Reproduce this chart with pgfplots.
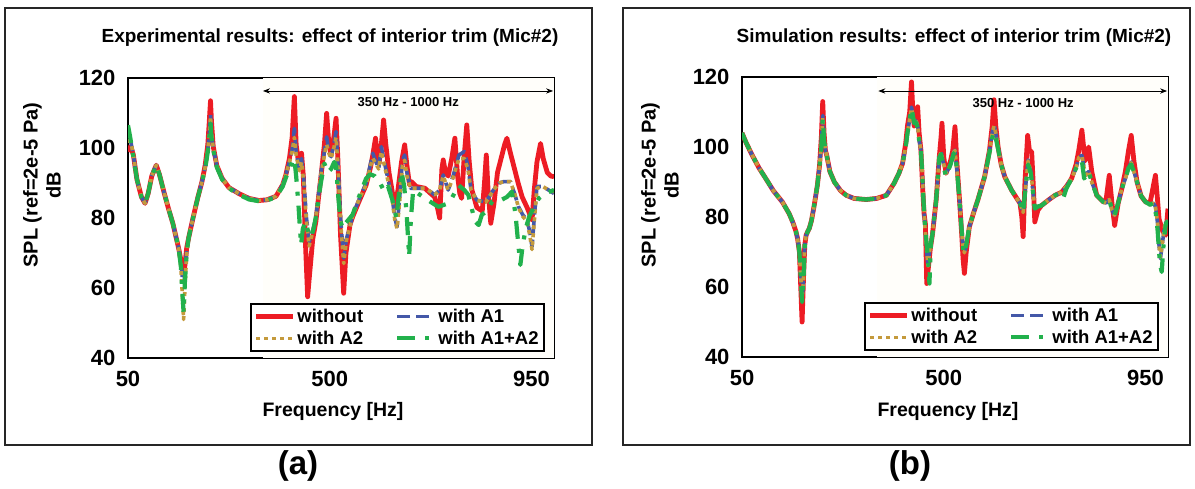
\documentclass[border=0pt]{standalone}
\usepackage{fontspec}
\setmainfont{Liberation Sans}
\usepackage{pgfplots}
\pgfplotsset{compat=1.18}
\usetikzlibrary{arrows.meta}
\definecolor{cRed}{HTML}{ED1C24}
\definecolor{cBlue}{HTML}{4458A8}
\definecolor{cGold}{HTML}{C49A3C}
\definecolor{cGreen}{HTML}{22B14C}
\definecolor{cream}{HTML}{FFFEFA}
\pgfplotsset{
 redline/.style={color=cRed, line width=4.8pt, solid, line join=round},
 blueline/.style={color=cBlue, line width=3.6pt, dash pattern=on 13pt off 6pt, line join=round},
 goldline/.style={color=cGold, line width=3.6pt, dash pattern=on 4pt off 4pt, line join=round},
 greenline/.style={color=cGreen, line width=4.2pt, dash pattern=on 18pt off 10pt on 4pt off 10pt, line join=round},
 panel/.style={
  scale only axis, width=426pt, height=280pt, anchor=south west,
  xmin=50, xmax=1000, ymin=40, ymax=120,
  xtick={50,500,950}, ytick={40,60,80,100,120},
  major tick length=0pt,
  axis line style={line width=2.5pt},
  tick label style={font=\fontsize{22}{26}\selectfont\bfseries},
  /pgf/number format/assume math mode=true,
  xticklabel style={yshift=-10pt}, yticklabel style={xshift=-9pt},
  legend columns=2,
  legend cell align=left,
  legend image code/.code={\draw[##1] (0pt,0pt) -- (37pt,0pt);},
  legend style={at={(rel axis cs:0.978,0.022)}, anchor=south east, draw=black, line width=2pt, fill=white,
    font=\fontsize{18.5}{21}\selectfont\bfseries, inner xsep=3pt, inner ysep=3pt, row sep=3pt,
    /tikz/every even column/.append style={column sep=30pt}},
 },
}
\begin{document}
\begin{tikzpicture}
\useasboundingbox (0pt,0pt) rectangle (1195pt,-488pt);
\draw[line width=2pt, black!85] (5pt,-8pt) rectangle (592pt,-445pt);
\draw[line width=2pt, black!85] (623pt,-8pt) rectangle (1190pt,-445pt);
% ---------------- panel (a)
\begin{axis}[panel, at={(128pt,-358pt)}]
\fill[cream] (axis cs:350,40) rectangle (axis cs:1000,120);
\addplot[redline] coordinates {(50,99)(56,100.5)(62,98)(70,91)(80,86)(88,84.2)(95,87)(103,92)(113,95.1)(120,92.5)(130,87.5)(140,82.8)(150,78.5)(163,71.3)(168,68)(172,64.5)(175,64)(178,68)(181,71.5)(185,74.2)(195,80)(205,85.5)(215,90.4)(222,95)(228,101)(231,107)(234,113.5)(236,108)(240,100.5)(248,95)(260,91.3)(275,88.7)(297,87)(320,85.6)(342,85)(360,85.2)(380,86.2)(395,89.5)(402,92.3)(410,97)(416,103)(421,114.7)(425,101)(432,94.2)(437,98.5)(441,92)(446,72)(450.6,57.5)(455,64)(462,74)(469,79)(475,86)(480.5,92)(488,101)(493,109.9)(498,101)(503,98)(509,103)(514,108.5)(518,97)(524,75)(531,58.5)(536,70)(545,78)(551.5,80.5)(566,85)(581,89.4)(590,94)(596,98)(602,102.8)(607,97)(610,95.6)(615,101)(620,108)(625,101)(632,93)(640,87)(645,82.8)(652,88)(660,96)(667,100.9)(672,95)(678,89.4)(682,90.4)(693,89)(712,88.5)(725,87)(734,86)(740,83)(745,80)(750,94)(753,96.6)(758,93)(764,92)(772,97)(779,102.8)(785,92)(790,87)(794,85.6)(800,98)(805.5,106.6)(811,96)(817,88)(828,83)(840,82)(845,90)(849,98)(853,88)(859,78.5)(866,84)(874,93)(882,97)(890,101)(895,102.8)(902,99)(910,95)(920,90)(929,86)(940,83)(951,79.4)(956,88)(962,96)(970,101.3)(976,97)(985,93)(993,92)(1000,91.8)};
\addlegendentry{without}
\addplot[blueline] coordinates {(50,102)(56,102)(62,98)(70,91)(80,86)(88,84.2)(95,87)(103,92)(113,95.1)(120,92.5)(130,87.5)(140,82.8)(150,78.5)(163,71.3)(168,67)(172,62)(175,61.5)(178,66)(181,71)(185,74.2)(195,80)(205,85.5)(215,90.4)(222,94.5)(228,99.5)(232,105)(234,109.5)(236,104.5)(240,100)(248,95)(260,91.3)(275,88.7)(297,87)(320,85.6)(342,85)(360,85.2)(380,86.2)(395,89.5)(402,92.3)(410,96)(416,99.5)(421,105.6)(425,99)(432,94)(437,97)(442,91)(448,80)(454,73.2)(460,75.5)(469,80)(480.5,93)(488,99)(493,103.2)(498,99)(503,97.5)(509,101)(514,104.7)(518,96)(524,80)(531,68.5)(537,74)(551.5,80.9)(566,85.5)(581,90)(590,95)(596,98.5)(603,96)(609,94)(615,100.4)(620,97)(630,91)(640,85)(645,80)(650,77.5)(656,86)(662,96.5)(667,98)(672,93)(680,88.5)(700,88.5)(712,88.5)(725,87.5)(734,86.6)(745,88)(753,92.3)(764,88)(775,92)(788,98)(800,99)(808,95)(815,88)(828,85.1)(848,84.6)(865,88)(878,90)(888,90.4)(903,90.4)(912,87)(921,83.2)(930,81)(940,79.4)(946,76)(951,71.8)(956,80)(962,89)(975,89)(988,88)(1000,87)};
\addlegendentry{with A1}
\addplot[goldline] coordinates {(50,102)(56,102)(62,98)(70,91)(80,86)(88,84.2)(95,87)(103,92)(113,95.1)(120,92.5)(130,87.5)(140,82.8)(150,78.5)(163,71.3)(168,66)(172,56)(174,51)(177,60)(181,70)(185,74.2)(195,80)(205,85.5)(215,90.4)(222,94.5)(228,99.5)(232,105)(234,109)(236,104.5)(240,100)(248,95)(260,91.3)(275,88.7)(297,87)(320,85.6)(342,85)(360,85.2)(380,86.2)(395,89.5)(402,92.3)(410,96)(416,99)(421,103)(425,98)(432,93.5)(437,96)(442,90)(448,79)(454,72)(460,75)(469,80)(480.5,92.5)(488,98)(493,101)(498,98.5)(503,97)(509,100)(514,103)(518,95)(524,79)(531,67)(537,73.5)(551.5,80.9)(566,85.5)(581,89.5)(590,94.5)(596,97)(603,95.5)(609,94)(615,99)(620,96)(630,90.5)(640,84.5)(645,79.5)(650,77)(656,85)(662,95)(667,96.5)(672,92)(680,88.5)(700,88.5)(712,88.5)(725,87.5)(734,86.6)(745,88)(753,92)(764,88)(775,91.5)(788,97)(800,97)(808,94)(815,88)(828,85)(848,84.5)(865,88)(878,90)(888,90.4)(903,90.4)(912,87)(921,83)(930,80.5)(940,79)(946,75)(951,71)(956,79)(962,88.5)(975,89)(988,88)(1000,87.5)};
\addlegendentry{with A2}
\addplot[greenline] coordinates {(50,106.5)(55,103)(62,97.5)(70,91)(80,86)(88,84.2)(95,87)(103,92)(113,95.1)(120,92.5)(130,87.5)(140,82.8)(150,78.5)(163,71.3)(168,66)(172,57)(174,53)(177,62)(181,70)(185,74.2)(195,80)(205,85.5)(215,90.4)(222,94)(228,99)(232,104)(234,107)(236,103)(240,99.5)(248,94.5)(260,91)(275,88.5)(297,86.7)(320,85.3)(342,84.8)(360,85)(380,86)(395,89)(402,91.5)(410,94)(416,96)(421,97)(425,92)(430,84)(433,78)(436,72.3)(440,77)(446,79)(452,76)(458,74.5)(464,77)(470,81)(480,90)(488,95.6)(495,93)(503,94)(510,96)(514,95)(519,86)(524,79)(529,77)(535,78.5)(545,80)(551,81)(565,86)(581,91.3)(590,92.5)(600,92)(612,90)(622,87.5)(630,89)(640,85)(648.6,79.9)(655,88)(660,93.2)(666,89)(671,82)(677,69)(681,80)(686,88)(697,87)(720,85)(742,83.2)(760,84)(772,85.6)(787,89.4)(800,88)(809,86.6)(818,82)(824,79)(832,78)(839,80.9)(850,82)(862,84.7)(880,85)(895,86)(906,87.5)(914,81.3)(920,73)(925,66.6)(930,72)(937,77)(945,80.5)(955,83)(966,85.6)(980,87)(1000,88)};
\addlegendentry{with A1+A2}
\draw[{Stealth[length=7pt]}-{Stealth[length=7pt]}, line width=0.8pt] (axis cs:351,116.3) -- (axis cs:998,116.3);
\node[font=\fontsize{13}{15}\selectfont\bfseries] at (axis cs:675,113.2) {350 Hz - 1000 Hz};
\end{axis}
% ---------------- panel (b)
\begin{axis}[panel, at={(742pt,-357pt)}]
\fill[cream] (axis cs:350,40) rectangle (axis cs:1000,120);
\addplot[redline] coordinates {(50,104)(60,101)(73,97.6)(88,94)(103,91)(120,87.5)(140,84.3)(155,81)(163,78.6)(170,76)(174,73.8)(178,70)(181,60)(184,50)(187,62)(190,72)(193,74.8)(197,76)(200,76.7)(205,79)(211,83.3)(218,89)(223,94.8)(227,103)(230,113)(233,104)(236,99)(239,97.6)(246,93)(256,90)(270,87.5)(282.5,86.2)(300,85.3)(327,85)(350,85.3)(372,86.2)(389,89.6)(400,92.5)(408,95.3)(415,101)(419,106)(424,110)(428,118.6)(431,110)(434,106)(438,109)(441.7,111.5)(445,104)(449,99.1)(453,88)(456,81)(459,78)(462,61)(466,66)(470,71)(475,75.3)(483,84.9)(490,97.2)(494,103)(496,106.8)(500,97)(505,92.5)(515,96)(520,99)(525,105.8)(529,96)(535,85)(540,75)(543,68)(546,63.9)(550,70)(557,77.2)(566,81)(576,84.9)(591,91.5)(602,99.1)(608,106)(612,113.5)(616,106)(621,100.1)(628,95)(636,91.5)(651,87.7)(662,85.5)(670,83.9)(674,80)(677,74.4)(681,90)(687,103.3)(691,99)(696,98.6)(700,88)(703,78.6)(710,82)(718,83.3)(735,85)(748,86.2)(763,87.1)(775,89)(785,91)(795,95)(801,99)(808,104.8)(815,96)(823,100)(830,93)(841,86.2)(856,84.3)(862,85)(869,91.9)(875,84)(881,77.6)(889,84)(897,88.1)(905,93)(912,99)(918,103.3)(924,96)(931,90)(940,86)(950,84.3)(960,84)(966,88)(972,91.9)(976,86)(980,79.5)(988,76)(995,74.8)(1000,82.4)};
\addlegendentry{without}
\addplot[blueline] coordinates {(50,104)(60,101)(73,97.6)(88,94)(103,91)(120,87.5)(140,84.3)(155,81)(163,78.6)(170,76)(174,73.8)(178,70)(181,63)(184,56)(187,62)(190,72)(193,74.8)(197,76)(200,76.7)(205,79)(211,83.3)(218,89)(223,94.8)(227,101)(230,109)(233,103)(236,99)(239,97.6)(246,93)(256,90)(270,87.5)(282.5,86.2)(300,85.3)(327,85)(350,85.3)(372,86.2)(389,89.6)(400,92.5)(408,95.3)(415,100)(419,103.9)(424,108)(428,111.4)(431,109)(434,106.8)(438,107.5)(441.7,106)(445,102)(449,99.1)(452,92)(455,84)(458,77)(462,70)(465,65.7)(468,70)(472,73)(475,75.3)(483,84.9)(490,97.2)(494,98.7)(498,96)(505,92.5)(515,95)(522,98.5)(525,99.1)(529,94)(535,84.9)(540,76)(543,71)(546,69.6)(550,72)(557,77.2)(566,81)(576,84.9)(591,91.5)(602,99.1)(608,104)(612,106.5)(616,104)(621,100.1)(628,95)(636,91.5)(651,87.7)(662,85.5)(670,83.9)(677,81.3)(682,88)(688,96.3)(694,93)(700,86)(703,82.4)(710,83)(718,83.3)(735,85)(748,86.2)(763,87.1)(775,89)(785,91)(795,94)(801,97)(808,97.6)(813,94)(818,92)(823,93)(830,90)(841,86.2)(856,84.3)(862,84)(869,85)(875,82)(881,80.5)(889,84)(897,88.1)(905,91)(912,94)(918,95.7)(924,93)(931,90)(940,86)(950,84.3)(960,83.5)(967,84)(972,83)(977,78)(980,72)(983,68.1)(987,72)(993,78)(1000,79)};
\addlegendentry{with A1}
\addplot[goldline] coordinates {(50,104)(60,101)(73,97.6)(88,94)(103,91)(120,87.5)(140,84.3)(155,81)(163,78.6)(170,76)(174,73.8)(178,70)(181,63)(184,56.5)(187,62)(190,72)(193,74.8)(197,76)(200,76.7)(205,79)(211,83.3)(218,89)(223,94.8)(227,101)(230,108.5)(233,103)(236,99)(239,97.6)(246,93)(256,90)(270,87.5)(282.5,86.2)(300,85.3)(327,85)(350,85.3)(372,86.2)(389,89.6)(400,92.5)(408,95.3)(415,100)(419,103.9)(424,108)(428,111)(431,109)(434,106.8)(438,107.5)(441.7,106)(445,102)(449,99.1)(452,92)(455,84)(458,77)(462,70)(465,66)(468,70)(472,73)(475,75.3)(483,84.9)(490,97.2)(494,98.5)(498,96)(505,92.5)(515,95)(522,98.5)(525,99)(529,94)(535,84.9)(540,76)(543,71)(546,69.8)(550,72)(557,77.2)(566,81)(576,84.9)(591,91.5)(602,99.1)(608,104)(612,106)(616,104)(621,100.1)(628,95)(636,91.5)(651,87.7)(662,85.5)(670,83.9)(677,81.3)(682,88)(688,96)(694,93)(700,86)(703,82.4)(710,83)(718,83.3)(735,85)(748,86.2)(763,87.1)(775,89)(785,91)(795,94)(801,97)(808,97.5)(813,94)(818,92)(823,93)(830,90)(841,86.2)(856,84.3)(862,84)(869,85)(875,82)(881,80.5)(889,84)(897,88.1)(905,91)(912,94)(918,95.5)(924,93)(931,90)(940,86)(950,84.3)(960,83.5)(967,84)(972,83)(977,78)(980,72)(983,68.5)(987,72)(993,78)(1000,79)};
\addlegendentry{with A2}
\addplot[greenline] coordinates {(50,104)(60,101)(73,97.6)(88,94)(103,91)(120,87.5)(140,84.3)(155,81)(163,78.6)(170,76)(174,73.8)(178,70)(181,63)(184,55.7)(187,62)(190,72)(193,74.8)(197,76)(200,76.7)(205,79)(211,83.3)(218,89)(223,94.8)(227,100)(230,108)(233,102)(236,99)(239,97.6)(246,93)(256,90)(270,87.5)(282.5,86.2)(300,85.3)(327,85)(350,85.3)(372,86.2)(389,89.6)(400,92.5)(408,95.3)(415,100)(419,103.9)(424,108)(428,111)(431,109)(434,106.8)(438,107)(441.7,105.5)(445,102)(449,99.1)(452,92)(455,84)(458,78)(462,72)(465,68)(468,61)(471,72)(475,75.3)(483,84.9)(490,97)(494,98)(498,95)(505,91.6)(515,95)(522,98)(525,98.5)(529,94)(535,84.9)(540,76)(543,71)(546,69.5)(550,72)(557,77.2)(566,81)(576,84.9)(591,91.5)(602,98.5)(608,102.5)(612,104.3)(616,102.5)(621,99.5)(628,95)(636,91.5)(651,87.7)(662,85.5)(670,83.9)(677,81.3)(682,88)(688,95)(694,92.5)(700,86)(703,82.4)(710,83)(718,83.3)(735,85)(748,86.2)(760,87)(767,85.6)(773,88)(785,91)(795,94)(801,95.5)(808,96)(813,91)(818,92)(823,93)(830,90)(841,86.2)(856,84.3)(862,84)(869,85)(875,82)(881,80.5)(889,84)(897,88.1)(905,91)(912,94)(918,95)(924,93)(931,90)(940,86)(950,84.3)(960,83.5)(967,84)(972,82)(977,76)(980,70)(983,66)(986,64.3)(990,72)(995,78)(1000,79)};
\addlegendentry{with A1+A2}
\draw[{Stealth[length=7pt]}-{Stealth[length=7pt]}, line width=0.8pt] (axis cs:354,116) -- (axis cs:998,116);
\node[font=\fontsize{13}{15}\selectfont\bfseries] at (axis cs:677,112.6) {350 Hz - 1000 Hz};
\end{axis}
% ---------------- texts
\node[font=\fontsize{19}{22}\selectfont\bfseries] at (330pt,-38pt) {Experimental results: effect of interior trim (Mic\#2)};
\node[font=\fontsize{19}{22}\selectfont\bfseries] at (954pt,-38pt) {Simulation results: effect of interior trim (Mic\#2)};
\node[rotate=90, align=center, font=\fontsize{20}{23}\selectfont\bfseries] at (42pt,-185pt) {SPL (ref=2e-5 Pa)\\dB};
\node[rotate=90, align=center, font=\fontsize{20}{23}\selectfont\bfseries] at (660pt,-185pt) {SPL (ref=2e-5 Pa)\\dB};
\node[font=\fontsize{19.5}{22}\selectfont\bfseries] at (333pt,-411pt) {Frequency [Hz]};
\node[font=\fontsize{19.5}{22}\selectfont\bfseries] at (948pt,-411pt) {Frequency [Hz]};
\node[font=\fontsize{33}{36}\selectfont\bfseries] at (298pt,-466pt) {(a)};
\node[font=\fontsize{33}{36}\selectfont\bfseries] at (910pt,-466pt) {(b)};
\end{tikzpicture}
\end{document}
